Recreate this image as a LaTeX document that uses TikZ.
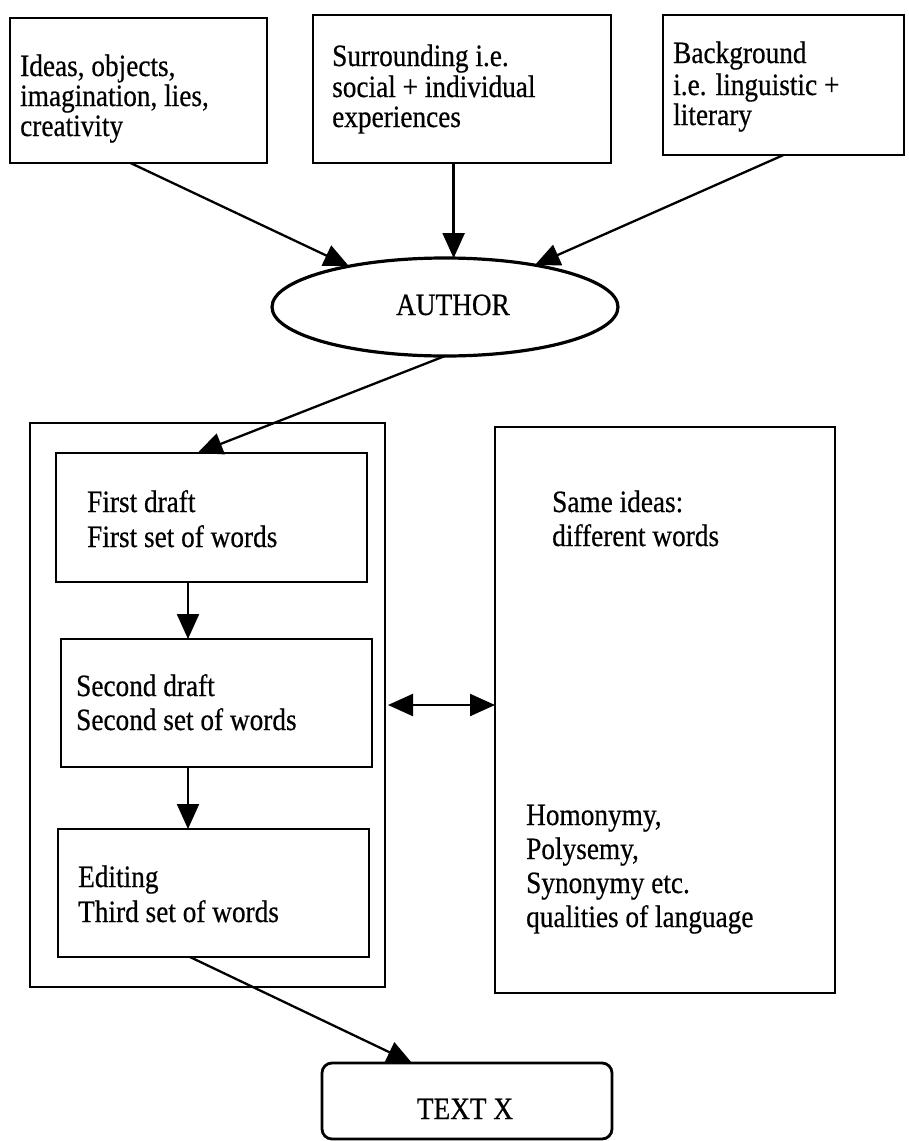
\documentclass[tikz,border=0pt]{standalone}
\usepackage{fontspec}
\setmainfont{Liberation Serif}
\newfontfamily\scanfont[FakeStretch=0.88,FakeBold=0.5]{Liberation Serif}
\usetikzlibrary{arrows.meta,shapes.geometric,fit}
\begin{document}
\begin{tikzpicture}[x=1pt,y=-1pt,
  box/.style={draw, line width=2.8pt, inner sep=0pt, outer sep=0pt},
  frame/.style={draw, line width=2.3pt, inner sep=0pt, outer sep=0pt},
  lbl/.style={anchor=base west, inner sep=0pt, font=\scanfont\fontsize{31}{31}\selectfont},
  clbl/.style={lbl, anchor=base},
  arr/.style={line width=2.3pt, -{Triangle[length=25pt,width=22pt]}},
  darr/.style={line width=2.3pt, {Triangle[length=25pt,width=22pt]}-{Triangle[length=25pt,width=22pt]}},
]
\useasboundingbox (0,0) rectangle (908,1141);

% sources feeding the author
\node[box, fit={(10,18) (267,163)}] (b1) {};
\node[box, fit={(313,15) (611,163)}] (b2) {};
\node[box, fit={(663,15) (904,155)}] (b3) {};
\node[lbl] (b1a) at (20,76)  {Ideas, objects,};
\node[lbl] (b1b) at (20,106) {imagination, lies,};
\node[lbl] (b1c) at (20,136) {creativity};
\node[lbl] (b2a) at (332,66) {Surrounding i.e.};
\node[lbl] (b2b) at (332,97) {social + individual};
\node[lbl] (b2c) at (332,127) {experiences};
\node[lbl] (b3a) at (673,63) {Background};
\node[lbl] (b3b) at (673,95) {i.e. linguistic +};
\node[lbl] (b3c) at (673,125) {literary};

% the author
\node[draw, ellipse, line width=3.2pt, inner sep=0pt, outer sep=0pt,
      minimum width=346pt, minimum height=98pt] (author) at (445,307) {};
\node[clbl] (authorlbl) at (453,315) {AUTHOR};

% drafting stages
\node[frame, fit={(30,423) (385,987)}] (outer) {};
\node[box, fit={(56,453) (367,582)}] (d1) {};
\node[box, fit={(61,639) (372,767)}] (d2) {};
\node[box, fit={(58,829) (369,957)}] (d3) {};
\node[lbl] (d1a) at (87,512) {First draft};
\node[lbl] (d1b) at (87,547) {First set of words};
\node[lbl] (d2a) at (76,696) {Second draft};
\node[lbl] (d2b) at (76,730) {Second set of words};
\node[lbl] (d3a) at (78,887) {Editing};
\node[lbl] (d3b) at (78,922) {Third set of words};

% language qualities
\node[frame, fit={(495,427) (835,993)}] (right) {};
\node[lbl] (r1) at (552,512) {Same ideas:};
\node[lbl] (r2) at (552,546) {different words};
\node[lbl] (r3) at (526,825) {Homonymy,};
\node[lbl] (r4) at (526,859) {Polysemy,};
\node[lbl] (r5) at (526,893) {Synonymy etc.};
\node[lbl] (r6) at (526,927) {qualities of language};

% result
\node[box, rounded corners=10pt, fit={(322,1063) (612,1139)}] (textx) {};
\node[clbl] (textxlbl) at (465,1119) {TEXT X};

% connectors
\draw[arr] ([xshift=-8pt]b1.south) -- (author.157);
\draw[arr] (b2.south -| author.80) -- (author.80);
\draw[arr] (b3.south) -- (author.25);
\draw[arr] (author.south) -- ([xshift=-14pt]d1.north);
\draw[arr] ([xshift=-23.5pt]d1.south) -- ([xshift=-23.5pt]d1.south |- d2.north);
\draw[arr] ([xshift=-28.5pt]d2.south) -- ([xshift=-28.5pt]d2.south |- d3.north);
\draw[darr] ([xshift=3pt]outer.east) -- (outer.east -| right.west);
\draw[arr] ([xshift=-23.5pt]d3.south) -- ([xshift=-55pt]textx.north);
\end{tikzpicture}
\end{document}
